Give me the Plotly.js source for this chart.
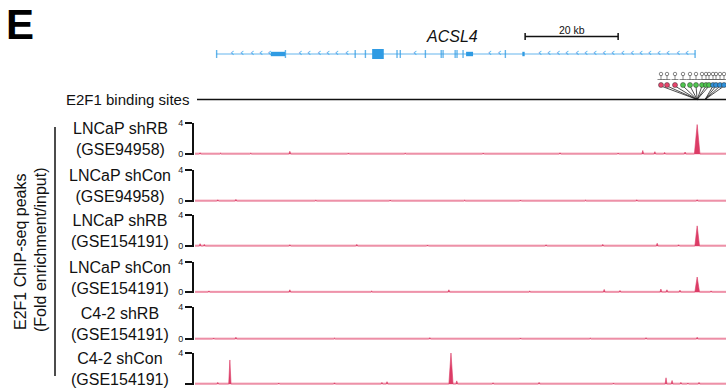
<!DOCTYPE html>
<html><head><meta charset="utf-8">
<script src="https://cdn.plot.ly/plotly-3.0.1.min.js"></script>
<style>html,body{margin:0;padding:0;background:#fff}</style>
</head><body>
<div id="chart" style="width:726px;height:388px"></div>
<script>
// ---------------- DATA ----------------
const regionKb = [0, 114.2];               // genomic window shown (kb)
const trackNames = [
  "LNCaP shRB<br>(GSE94958)",
  "LNCaP shCon<br>(GSE94958)",
  "LNCaP shRB<br>(GSE154191)",
  "LNCaP shCon<br>(GSE154191)",
  "C4-2 shRB<br>(GSE154191)",
  "C4-2 shCon<br>(GSE154191)"
];
const yTickVals = [0, 4];
const yTickText = ["0", "4"];

// main peaks (track index, position kb, fold enrichment, half width kb)
const mainPeakTrack = [0, 2, 3, 5, 5];
const mainPeakPos   = [108.0, 108.0, 108.0, 7.5, 55.05];
const mainPeakVal   = [3.8, 2.6, 2.0, 3.1, 4.0];
const mainPeakHalfW = [0.6, 0.5, 0.5, 0.25, 0.45];

// small background bumps per track
const bumpPos1 = [1.1, 5.5, 12.0, 20.4, 33.0, 45.2, 62.0, 78.5, 91.0, 96.3, 98.9, 101.0, 105.4];
const bumpVal1 = [0.15, 0.1, 0.1, 0.35, 0.12, 0.1, 0.12, 0.15, 0.12, 0.45, 0.3, 0.2, 0.25];
const bumpPos2 = [4.9, 8.8, 26.0, 42.0, 58.0, 70.0, 84.0, 95.0, 108.0];
const bumpVal2 = [0.15, 0.2, 0.1, 0.12, 0.1, 0.12, 0.1, 0.15, 0.15];
const bumpPos3 = [1.1, 2.0, 20.4, 34.8, 50.0, 75.5, 87.7, 99.4, 104.0];
const bumpVal3 = [0.3, 0.2, 0.15, 0.2, 0.12, 0.15, 0.2, 0.35, 0.15];
const bumpPos4 = [3.0, 20.4, 38.0, 54.6, 72.0, 88.0, 91.4, 100.2, 101.5, 104.3, 111.0];
const bumpVal4 = [0.15, 0.3, 0.12, 0.3, 0.12, 0.35, 0.2, 0.4, 0.3, 0.25, 0.15];
const bumpPos5 = [4.0, 8.8, 30.0, 50.5, 70.0, 85.0, 97.0, 108.0];
const bumpVal5 = [0.12, 0.2, 0.1, 0.15, 0.12, 0.1, 0.15, 0.2];
const bumpPos6 = [4.9, 18.0, 30.0, 40.2, 41.3, 56.3, 64.1, 74.0, 90.0, 101.3, 102.6, 104.5, 106.0, 108.4];
const bumpVal6 = [0.2, 0.12, 0.15, 0.2, 0.3, 0.4, 0.15, 0.2, 0.12, 0.8, 0.45, 0.2, 0.12, 0.2];
const bumpPos = [bumpPos1, bumpPos2, bumpPos3, bumpPos4, bumpPos5, bumpPos6];
const bumpVal = [bumpVal1, bumpVal2, bumpVal3, bumpVal4, bumpVal5, bumpVal6];

// ACSL4 gene model (kb)
const geneSpanKb = [4.6, 107.6];
const exonStart = [4.5, 16.3, 19.3, 34.3, 36.5, 38.1, 43.3, 44.0, 49.4, 52.8, 53.2, 55.8, 56.2, 57.5, 58.3, 66.6, 70.4, 107.4];
const exonEnd   = [4.8, 19.4, 19.6, 34.6, 36.8, 40.6, 43.6, 44.3, 49.7, 53.1, 53.5, 56.1, 56.5, 57.8, 59.8, 66.9, 70.9, 107.7];
const exonKind  = ["t","u","t","t","t","c","t","t","t","t","t","t","t","t","u","t","u","t"];
const geneArrowKb = [8.0, 10.1, 12.3, 14.2, 16.0, 22.6, 24.5, 26.7, 28.6, 30.5, 32.7, 47.3, 63.4, 65.5,
  74.2, 76.1, 78.1, 80.0, 82.2, 84.1, 86.0, 88.0, 89.9, 92.0, 94.0, 95.9, 97.8, 99.8, 101.7, 103.9, 105.8];
const scaleBarKb = [71.0, 91.0];

// E2F1 binding sites (genomic position kb, motif class)
const siteKb    = [108.0,108.0,108.0,108.0,108.0,108.0,108.0,108.0,108.0,109.7,109.7,109.7,109.7];
const siteClass = ["r","r","r","g","g","g","g","g","g","b","b","b","b"];

// ---------------- LAYOUT HELPERS ----------------
const W = 726, H = 388;
const X = px => px / W;
const Y = py => 1 - py / H;
const kbPerPx = (regionKb[1] - regionKb[0]) / (W - 195);
const pxToKb = px => regionKb[0] + (px - 195) * kbPerPx;

const trackTop = [123, 170, 215, 262, 307, 353];
const trackBot = [154, 201, 246, 292, 339, 384];
const geneY = 54;
const headPx = [661, 667, 675, 683, 690, 696, 702, 706, 709, 713, 716, 720, 724];
const classColor = {r: "#e8456c", g: "#4fc54f", b: "#2f90da"};
const peakColor = "#dc3c66";
const baseColor = "#f6b7c6";
const geneColor = "#2f9be3";

const traces = [];
const layout = {
  width: W, height: H, margin: {l: 0, r: 0, t: 0, b: 0},
  paper_bgcolor: "#fff", plot_bgcolor: "rgba(0,0,0,0)",
  showlegend: false,
  font: {family: "Liberation Sans, Arial, sans-serif", color: "#111"},
  xaxis: {domain: [X(195), 1], range: regionKb, visible: false, fixedrange: true},
  shapes: [], annotations: []
};

for (let k = 0; k < 6; k++) {
  const yname = k === 0 ? "yaxis" : "yaxis" + (k + 1);
  const yref = k === 0 ? "y" : "y" + (k + 1);
  layout[yname] = {
    domain: [Y(trackBot[k] + 1), Y(trackTop[k])],
    range: [-0.13, 4], anchor: "free", position: X(192), side: "left",
    showline: true, linecolor: "#111", linewidth: 1.5,
    ticks: "outside", ticklen: 7, tickwidth: 1.5, tickcolor: "#111",
    tickvals: yTickVals, ticktext: yTickText, tickfont: {size: 9, color: "#222"},
    showgrid: false, zeroline: false, fixedrange: true
  };
  // baseline
  traces.push({x: regionKb, y: [0.05, 0.05], xaxis: "x", yaxis: yref, mode: "lines",
    line: {color: baseColor, width: 2}, hoverinfo: "skip"});
  // peaks
  const pk = [];
  bumpPos[k].forEach((p, i) => pk.push([p, bumpVal[k][i], 0.2]));
  mainPeakTrack.forEach((t, i) => { if (t === k) pk.push([mainPeakPos[i], mainPeakVal[i], mainPeakHalfW[i]]); });
  pk.sort((a, b) => a[0] - b[0]);
  const xs = [regionKb[0]], ys = [0];
  pk.forEach(([p, v, w]) => { xs.push(p - w, p, p + w); ys.push(0, v, 0); });
  xs.push(regionKb[1]); ys.push(0);
  traces.push({x: xs, y: ys, xaxis: "x", yaxis: yref, mode: "lines", fill: "tozeroy",
    fillcolor: peakColor, line: {color: peakColor, width: 0.6}, hoverinfo: "skip"});
  // label
  layout.annotations.push({xref: "paper", yref: "paper", x: X(120), y: Y((trackTop[k] + trackBot[k]) / 2 + 0.5),
    text: trackNames[k], showarrow: false, xanchor: "center", yanchor: "middle", align: "center",
    font: {size: 16, color: "#111"}});
}

// overlay axis in pixel units for the annotation tracks
layout.yaxis7 = {domain: [0, 1], range: [H, 0], visible: false, fixedrange: true, anchor: "x"};

// gene line
traces.push({x: geneSpanKb, y: [geneY, geneY], xaxis: "x", yaxis: "y7", mode: "lines",
  line: {color: "#66b6ee", width: 1.2}, hoverinfo: "skip"});
// exons
const kindH = {t: 4, u: 2.2, c: 5};
exonStart.forEach((s, i) => {
  const h = kindH[exonKind[i]];
  layout.shapes.push({type: "rect", xref: "x", yref: "y7", x0: s, x1: exonEnd[i],
    y0: geneY - h, y1: geneY + h, fillcolor: geneColor, line: {width: 0}, opacity: exonKind[i] === "t" ? 0.75 : 1});
});
// strand arrows
traces.push({x: geneArrowKb, y: geneArrowKb.map(() => geneY - 0.5), xaxis: "x", yaxis: "y7", mode: "text",
  text: geneArrowKb.map(() => "‹"), textposition: "middle center",
  textfont: {size: 11, color: "#3fa4ea", family: "DejaVu Sans"}, hoverinfo: "skip", cliponaxis: false});
// gene name
layout.annotations.push({xref: "x", yref: "y7", x: pxToKb(452), y: 36, text: "<i>ACSL4</i>",
  showarrow: false, font: {size: 16, color: "#111"}, xanchor: "center", yanchor: "middle"});
// scale bar
layout.shapes.push({type: "line", xref: "x", yref: "y7", x0: scaleBarKb[0], x1: scaleBarKb[1], y0: 36.5, y1: 36.5, line: {color: "#111", width: 1.5}});
scaleBarKb.forEach(v => layout.shapes.push({type: "line", xref: "x", yref: "y7", x0: v, x1: v, y0: 33, y1: 40, line: {color: "#111", width: 1.5}}));
layout.annotations.push({xref: "x", yref: "y7", x: (scaleBarKb[0] + scaleBarKb[1]) / 2, y: 29.5,
  text: (scaleBarKb[1] - scaleBarKb[0]) + " kb", showarrow: false, font: {size: 10.5, color: "#111"}, xanchor: "center", yanchor: "middle"});

// binding sites track
layout.annotations.push({xref: "paper", yref: "paper", x: X(191), y: Y(99), text: "E2F1 binding sites",
  showarrow: false, xanchor: "right", yanchor: "middle", font: {size: 15, color: "#111"}});
layout.shapes.push({type: "line", xref: "paper", yref: "paper", x0: X(197), x1: 1, y0: Y(99.5), y1: Y(99.5), line: {color: "#111", width: 1.5}});
const sx = [], sy = [];
siteKb.forEach((g, i) => { sx.push(pxToKb(headPx[i]), g, null); sy.push(86, 99.5, null); });
traces.push({x: sx, y: sy, xaxis: "x", yaxis: "y7", mode: "lines", line: {color: "#222", width: 0.8}, hoverinfo: "skip"});
const headKb = headPx.map(pxToKb);
// small motif glyphs above the heads
traces.push({x: headKb, y: headPx.map(() => 74), xaxis: "x", yaxis: "y7", mode: "markers",
  marker: {symbol: "circle-open", size: 3.5, color: "#555", line: {width: 0.7, color: "#555"}}, hoverinfo: "skip", cliponaxis: false});
traces.push({x: headKb, y: headPx.map(() => 77.5), xaxis: "x", yaxis: "y7", mode: "markers",
  marker: {symbol: "line-ns-open", size: 3.5, color: "#555", line: {width: 0.7, color: "#555"}}, hoverinfo: "skip", cliponaxis: false});
traces.push({x: headKb, y: headPx.map(() => 79.5), xaxis: "x", yaxis: "y7", mode: "markers",
  marker: {symbol: "line-ew-open", size: 5, color: "#555", line: {width: 0.7, color: "#555"}}, hoverinfo: "skip", cliponaxis: false});
traces.push({x: headKb, y: headPx.map(() => 85), xaxis: "x", yaxis: "y7", mode: "markers",
  marker: {size: 5, color: siteClass.map(c => classColor[c]), line: {width: 0.5, color: "#333"}}, hoverinfo: "skip", cliponaxis: false});

// panel letter
layout.annotations.push({xref: "paper", yref: "paper", x: X(20), y: 1, text: "<b>E</b>", showarrow: false,
  xanchor: "center", yanchor: "top", borderpad: 0, font: {size: 42, color: "#000"}});
// left grouped label
layout.shapes.push({type: "line", xref: "paper", yref: "paper", x0: X(55), x1: X(55), y0: Y(127), y1: Y(376), line: {color: "#111", width: 1.5}});
layout.annotations.push({xref: "paper", yref: "paper", x: X(20), y: Y(252), text: "E2F1 ChIP-seq peaks",
  textangle: -90, showarrow: false, xanchor: "center", yanchor: "middle", font: {size: 16, color: "#111"}});
layout.annotations.push({xref: "paper", yref: "paper", x: X(40), y: Y(250), text: "(Fold enrichment/input)",
  textangle: -90, showarrow: false, xanchor: "center", yanchor: "middle", font: {size: 16, color: "#111"}});

Plotly.newPlot("chart", traces, layout, {staticPlot: true, displayModeBar: false});
</script>
</body></html>
